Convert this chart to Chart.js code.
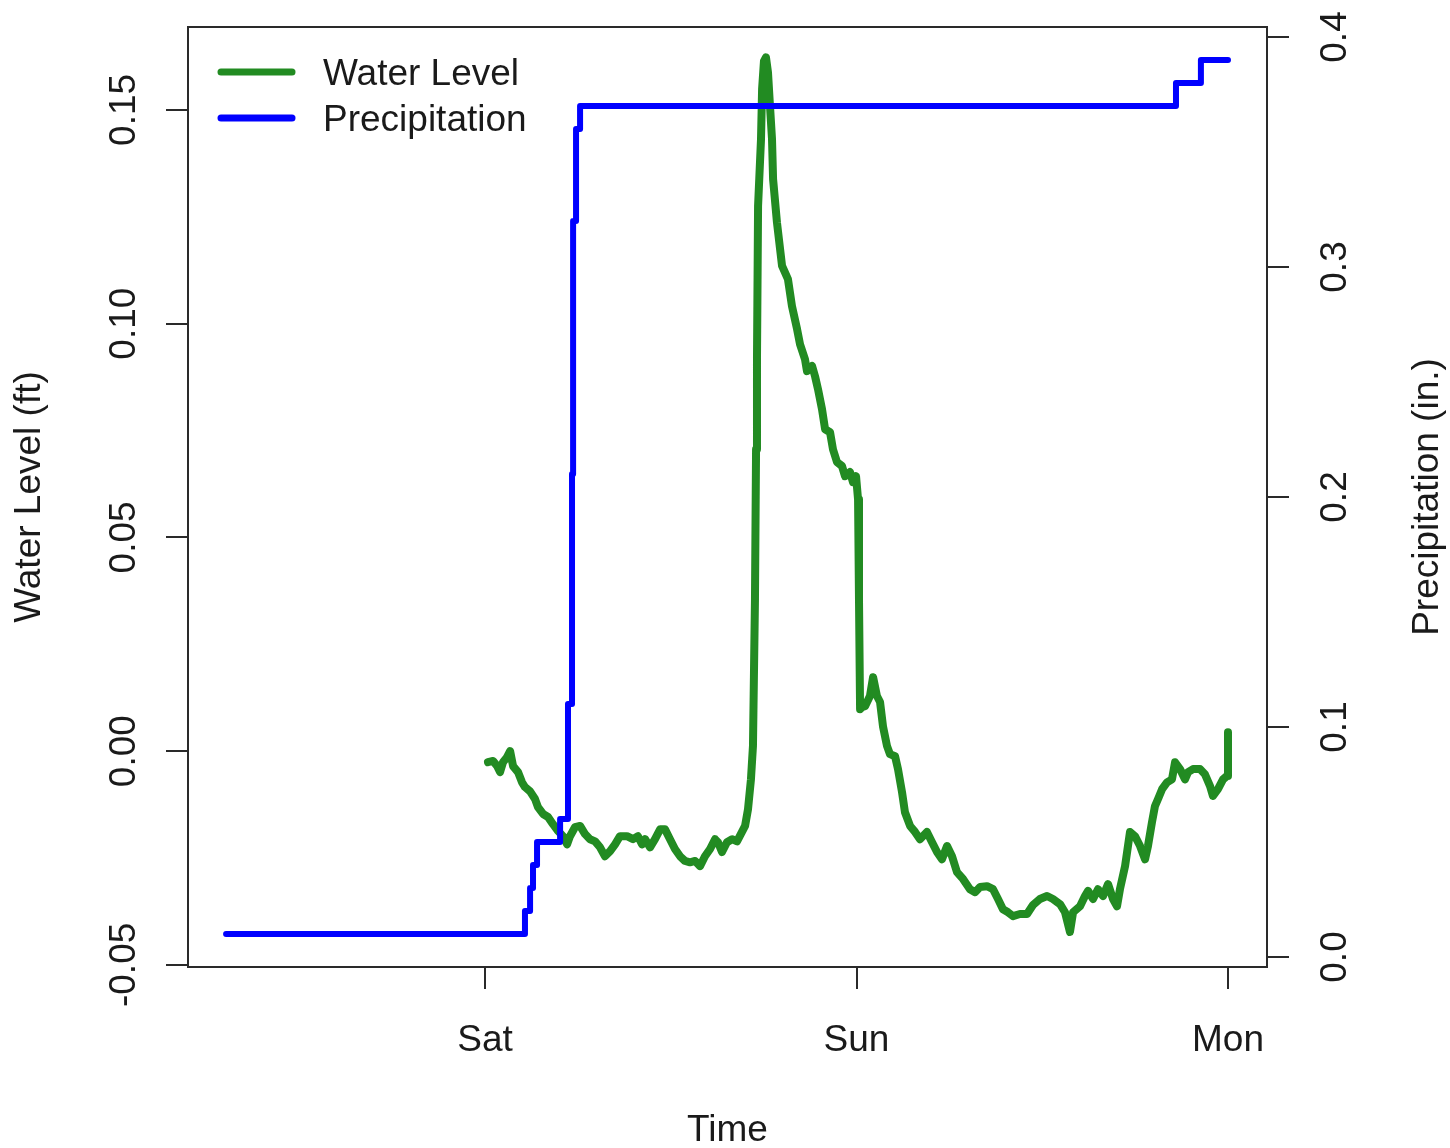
<!DOCTYPE html>
<html><head><meta charset="utf-8">
<script src="https://cdn.jsdelivr.net/npm/chart.js@4"></script>
<style>html,body{margin:0;padding:0;background:#fff;overflow:hidden}canvas{display:block}</style>
</head><body>
<canvas id="c" width="1450" height="1148"></canvas>
<script>
// ---- tick labels ----
const xTickValues = [0, 24, 48];               // hours from Sat 00:00
const xTickLabels = ['Sat', 'Sun', 'Mon'];
const waterTickValues = [-0.05, 0, 0.05, 0.10, 0.15];
const waterTickLabels = ['-0.05', '0.00', '0.05', '0.10', '0.15'];
const precipTickValues = [0, 0.1, 0.2, 0.3, 0.4];
const precipTickLabels = ['0.0', '0.1', '0.2', '0.3', '0.4'];
const seriesNames = ['Water Level', 'Precipitation'];

// ---- water level series (hours from Sat 00:00, ft) ----
const waterHours = [0.19,0.52,0.78,0.97,1.16,1.42,1.62,1.81,2.13,2.39,2.58,2.91,3.23,3.42,3.75,4.07,4.39,4.72,5.04,5.30,
5.49,5.81,6.14,6.46,6.78,7.11,7.43,7.75,8.08,8.40,8.72,9.17,9.56,9.88,10.14,10.34,10.66,10.98,11.31,11.63,
11.95,12.27,12.60,12.92,13.24,13.57,13.89,14.21,14.54,14.86,15.05,15.31,15.63,15.96,16.28,16.60,16.80,16.99,17.18,17.31,
17.44,17.51,17.57,17.64,17.83,17.90,18.02,18.15,18.28,18.41,18.54,18.61,18.86,19.19,19.57,19.83,20.16,20.35,20.67,20.80,
21.13,21.32,21.51,21.77,21.97,22.29,22.48,22.74,23.06,23.26,23.58,23.77,23.97,24.10,24.16,24.23,24.36,24.55,24.87,25.07,
25.32,25.52,25.71,25.97,26.16,26.49,26.68,26.94,27.13,27.46,27.78,28.10,28.55,28.88,29.20,29.52,29.85,30.17,30.49,30.88,
31.33,31.66,31.98,32.43,32.82,33.14,33.46,33.79,34.11,34.56,35.02,35.40,35.85,36.31,36.69,37.15,37.47,37.79,37.99,38.44,
38.76,38.96,39.28,39.60,39.93,40.25,40.57,40.83,41.02,41.35,41.67,41.99,42.32,42.64,42.83,43.09,43.28,43.48,43.74,44.06,
44.38,44.58,44.90,45.22,45.42,45.74,46.19,46.51,46.84,47.03,47.35,47.68,47.94,48.00];
const waterLevel = [-0.0026,-0.0023,-0.0035,-0.0049,-0.0026,-0.0014,0.0000,-0.0035,-0.0049,-0.0073,-0.0084,-0.0094,-0.0112,-0.0131,-0.0147,-0.0154,-0.0171,-0.0187,-0.0199,-0.0218,
-0.0199,-0.0178,-0.0175,-0.0194,-0.0206,-0.0211,-0.0225,-0.0246,-0.0234,-0.0218,-0.0199,-0.0199,-0.0206,-0.0199,-0.0218,-0.0206,-0.0225,-0.0206,-0.0183,-0.0183,
-0.0206,-0.0229,-0.0246,-0.0257,-0.0260,-0.0257,-0.0269,-0.0246,-0.0229,-0.0206,-0.0213,-0.0236,-0.0213,-0.0206,-0.0211,-0.0189,-0.0175,-0.0136,-0.0066,0.0012,
0.0356,0.0706,0.0917,0.1275,0.1432,0.1549,0.1614,0.1623,0.1588,0.1509,0.1432,0.1338,0.1237,0.1135,0.1104,0.1041,0.0987,0.0952,0.0917,0.0889,
0.0901,0.0877,0.0847,0.0800,0.0753,0.0746,0.0706,0.0676,0.0667,0.0643,0.0653,0.0629,0.0643,0.0589,0.0356,0.0098,0.0103,0.0105,0.0129,0.0173,
0.0129,0.0115,0.0058,0.0012,-0.0007,-0.0012,-0.0042,-0.0096,-0.0143,-0.0175,-0.0189,-0.0206,-0.0189,-0.0213,-0.0236,-0.0253,-0.0222,-0.0246,-0.0283,-0.0299,
-0.0323,-0.0330,-0.0318,-0.0316,-0.0323,-0.0346,-0.0370,-0.0377,-0.0386,-0.0381,-0.0381,-0.0360,-0.0346,-0.0339,-0.0346,-0.0358,-0.0377,-0.0423,-0.0377,-0.0363,
-0.0339,-0.0327,-0.0346,-0.0323,-0.0339,-0.0311,-0.0346,-0.0363,-0.0323,-0.0269,-0.0189,-0.0199,-0.0222,-0.0253,-0.0222,-0.0166,-0.0129,-0.0112,-0.0089,-0.0073,
-0.0066,-0.0026,-0.0042,-0.0066,-0.0049,-0.0042,-0.0042,-0.0054,-0.0082,-0.0105,-0.0089,-0.0066,-0.0058,0.0044];

// ---- cumulative precipitation (hours from Sat 00:00, in.) ----
const precipHours = [-16.73, 2.58, 2.91, 3.10, 3.36, 4.85, 5.36, 5.62, 5.69, 5.88, 6.14, 44.64, 46.25, 48.00];
const precipTotal = [0.01, 0.02, 0.03, 0.04, 0.05, 0.06, 0.11, 0.21, 0.32, 0.36, 0.37, 0.38, 0.39, 0.39];

const FONT = '"Liberation Sans", Arial, Helvetica, sans-serif';
const TXT = '#1a1a1a';
const AXC = '#2a2a2a';
const GREEN = '#228B22';
const BLUE = '#0000FF';
const FS = 37;

const rStyle = {
  id: 'rStyle',
  afterDatasetsDraw(chart) {
    const ctx = chart.ctx;
    const a = chart.chartArea;
    ctx.save();
    // plot box
    ctx.strokeStyle = AXC; ctx.lineWidth = 2;
    ctx.strokeRect(a.left, a.top, a.right - a.left, a.bottom - a.top);
    // rotated y tick labels
    ctx.font = FS + 'px ' + FONT; ctx.fillStyle = TXT;
    ctx.textAlign = 'center'; ctx.textBaseline = 'middle';
    const ys = chart.scales.y, y1 = chart.scales.y1;
    waterTickValues.forEach((v, i) => {
      ctx.save(); ctx.translate(a.left - 63, ys.getPixelForValue(v)); ctx.rotate(-Math.PI / 2);
      ctx.fillText(waterTickLabels[i], 0, 0); ctx.restore();
    });
    precipTickValues.forEach((v, i) => {
      ctx.save(); ctx.translate(a.right + 69, y1.getPixelForValue(v)); ctx.rotate(-Math.PI / 2);
      ctx.fillText(precipTickLabels[i], 0, 0); ctx.restore();
    });
    // right axis title (reads bottom to top)
    ctx.save(); ctx.translate(a.right + 161, (a.top + a.bottom) / 2); ctx.rotate(-Math.PI / 2);
    ctx.fillText('Precipitation (in.)', 0, 0); ctx.restore();
    // legend (no frame)
    const cols = [GREEN, BLUE];
    seriesNames.forEach((name, i) => {
      const ly = a.top + 45 + i * 46;
      ctx.strokeStyle = cols[i]; ctx.lineWidth = 7; ctx.lineCap = 'round';
      ctx.beginPath(); ctx.moveTo(a.left + 33, ly); ctx.lineTo(a.left + 104, ly); ctx.stroke();
      ctx.textAlign = 'left'; ctx.fillStyle = TXT;
      ctx.fillText(name, a.left + 135, ly + 3);
    });
    ctx.restore();
  }
};

const tickGrid = { display: true, drawOnChartArea: false, drawTicks: true, tickLength: 22, color: AXC, lineWidth: 2 };

new Chart(document.getElementById('c'), {
  type: 'line',
  data: {
    datasets: [
      {
        label: seriesNames[1],
        data: precipHours.map((h, i) => ({ x: h, y: precipTotal[i] })),
        yAxisID: 'y1', borderColor: BLUE, borderWidth: 6, stepped: 'before',
        pointRadius: 0, fill: false, borderCapStyle: 'round', borderJoinStyle: 'round', order: 1
      },
      {
        label: seriesNames[0],
        data: waterHours.map((h, i) => ({ x: h, y: waterLevel[i] })),
        yAxisID: 'y', borderColor: GREEN, borderWidth: 8, tension: 0,
        pointRadius: 0, fill: false, borderCapStyle: 'round', borderJoinStyle: 'round', order: 2
      }
    ]
  },
  options: {
    responsive: false, animation: false, devicePixelRatio: 1,
    layout: { padding: { top: 27, left: 0, right: 0, bottom: 0 } },
    plugins: { legend: { display: false }, tooltip: { enabled: false }, title: { display: false } },
    scales: {
      x: {
        type: 'linear', position: 'bottom', min: -19.19, max: 50.52,
        afterBuildTicks: s => { s.ticks = xTickValues.map(v => ({ value: v })); },
        afterFit: s => { s.height = 181; },
        ticks: {
          autoSkip: false, maxRotation: 0, minRotation: 0, padding: 30, color: TXT,
          font: { size: FS, family: FONT },
          callback: v => xTickLabels[xTickValues.indexOf(v)]
        },
        grid: tickGrid, border: { display: false },
        title: { display: true, text: 'Time', color: TXT, font: { size: FS, family: FONT }, padding: { top: 0, bottom: -5 } }
      },
      y: {
        type: 'linear', position: 'left', min: -0.0505, max: 0.1694,
        afterBuildTicks: s => { s.ticks = waterTickValues.map(v => ({ value: v })); },
        afterFit: s => { s.width = 188; },
        ticks: { display: false },
        grid: tickGrid, border: { display: false },
        title: { display: true, text: 'Water Level (ft)', color: TXT, font: { size: FS, family: FONT }, padding: { top: 8, bottom: 0 } }
      },
      y1: {
        type: 'linear', position: 'right', min: -0.00435, max: 0.40435,
        afterBuildTicks: s => { s.ticks = precipTickValues.map(v => ({ value: v })); },
        afterFit: s => { s.width = 183; },
        ticks: { display: false },
        grid: tickGrid, border: { display: false }
      }
    }
  },
  plugins: [rStyle]
});
</script>
</body></html>
